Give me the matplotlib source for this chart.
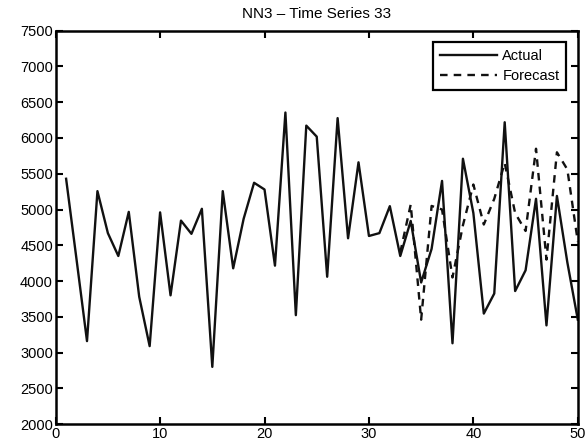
import numpy as np
import matplotlib
matplotlib.use("Agg")
import matplotlib.pyplot as plt

plt.rcParams['font.family'] = ['Liberation Sans', 'DejaVu Sans']

# data
t_actual = list(range(1, 51))
actual = [5430, 4300, 3160, 5257, 4670, 4350, 4967, 3780, 3090, 4960,
          3800, 4845, 4660, 5010, 2800, 5257, 4178, 4870, 5374, 5280,
          4215, 6356, 3523, 6173, 6019, 4060, 6278, 4598, 5660, 4630,
          4670, 5047, 4350, 4840, 3980, 4450, 5400, 3130, 5710, 4950,
          3545, 3825, 6220, 3860, 4150, 5150, 3380, 5190, 4260, 3460]

t_forecast = list(range(33, 51))
forecast = [4400, 5070, 3460, 5050, 5000, 4050, 4780, 5350, 4790, 5150,
            5650, 4950, 4700, 5850, 4300, 5800, 5560, 4550]

x_ticks = [0, 10, 20, 30, 40, 50]
y_ticks = list(range(2000, 7501, 500))

fig = plt.figure(figsize=(5.86, 4.45), dpi=100)
ax = fig.add_axes([0.095, 0.047, 0.891, 0.884])

ax.plot(t_actual, actual, color='#111111', lw=1.7, label='Actual')
ax.plot(t_forecast, forecast, color='#111111', lw=1.7,
        linestyle=(0, (3.2, 2.6)), label='Forecast')

ax.set_xlim(0, 50)
ax.set_ylim(2000, 7500)
ax.set_xticks(x_ticks)
ax.set_yticks(y_ticks)
ax.tick_params(direction='in', top=True, right=True, length=5, width=1.5,
               labelsize=10.5, pad=2)
for s in ax.spines.values():
    s.set_linewidth(1.8)

ax.set_title('NN3 \u2013 Time Series 33', fontsize=11, pad=9)

leg = ax.legend(loc='upper right', fontsize=10.5, fancybox=False,
                framealpha=1, edgecolor='black', borderaxespad=0.8,
                handlelength=3.9, handletextpad=0.4, borderpad=0.45,
                labelspacing=0.45)
leg.get_frame().set_linewidth(1.6)

fig.savefig('out.png', dpi=100)
